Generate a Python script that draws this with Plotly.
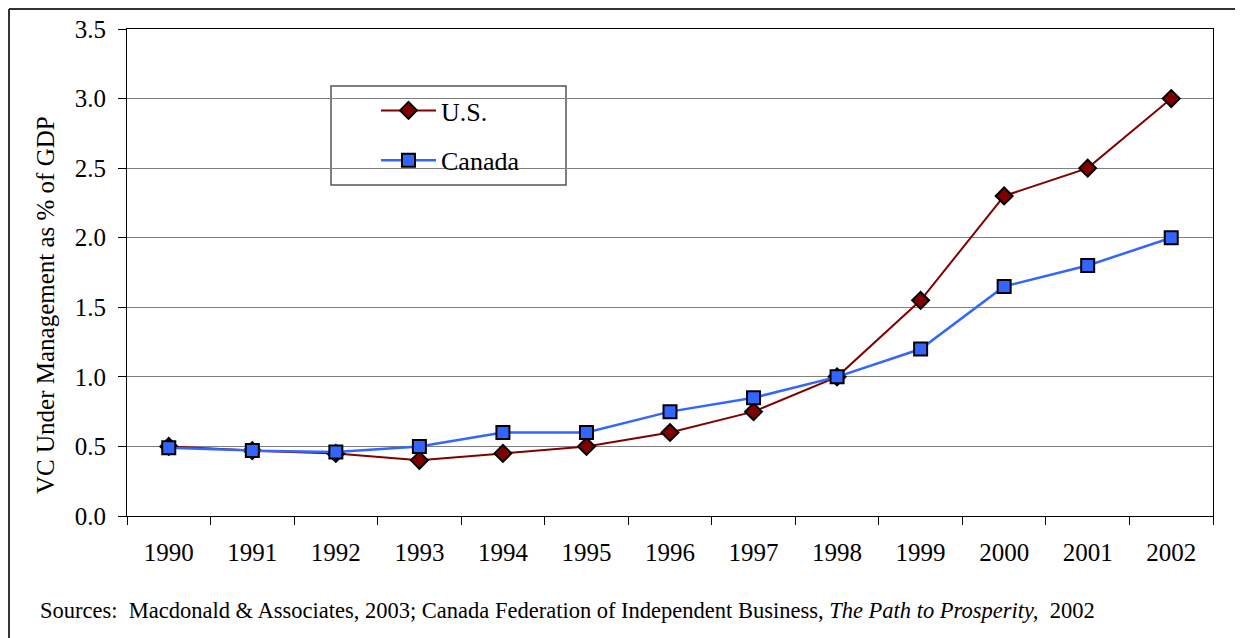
import plotly.graph_objects as go

years = ["1990", "1991", "1992", "1993", "1994", "1995", "1996",
         "1997", "1998", "1999", "2000", "2001", "2002"]
us_values = [0.50, 0.47, 0.45, 0.40, 0.45, 0.50, 0.60, 0.75, 1.00, 1.55, 2.30, 2.50, 3.00]
canada_values = [0.49, 0.47, 0.46, 0.50, 0.60, 0.60, 0.75, 0.85, 1.00, 1.20, 1.65, 1.80, 2.00]
y_ticks = [0.0, 0.5, 1.0, 1.5, 2.0, 2.5, 3.0, 3.5]
y_tick_labels = ["0.0", "0.5", "1.0", "1.5", "2.0", "2.5", "3.0", "3.5"]

W, H = 1243, 638
OFF = 8  # page offset of the figure inside the browser window
# target plot area in window pixels: x 127..1213, y 29..516
L = 127 - OFF
T = 29 - OFF
R = W - (1213 - OFF)
B = H - (516 - OFF)
pw, ph = W - L - R, H - T - B


def px(x):
    return (x - OFF - L) / pw


def py(y):
    return (H - B - (y - OFF)) / ph


serif = "Liberation Serif, Times New Roman, serif"

fig = go.Figure()
fig.add_trace(go.Scatter(
    x=years, y=us_values, name="U.S.", mode="lines+markers",
    legendgroup="us",
    line=dict(color="#800000", width=2),
    marker=dict(symbol="diamond", size=13, color="#800000",
                line=dict(color="black", width=2)),
))
fig.add_trace(go.Scatter(
    x=years, y=canada_values, name="Canada", mode="lines+markers",
    legendgroup="ca",
    line=dict(color="#3366FF", width=2.5),
    marker=dict(symbol="square", size=13, color="#3366FF",
                line=dict(color="black", width=2)),
))

fig.update_layout(
    width=W, height=H,
    margin=dict(l=L, r=R, t=T, b=B, autoexpand=False),
    paper_bgcolor="white", plot_bgcolor="white",
    font=dict(family=serif, color="black", size=25),
    showlegend=True,
    legend=dict(
        x=px(376), y=py(87), xanchor="left", yanchor="top",
        bgcolor="rgba(0,0,0,0)", borderwidth=0,
        font=dict(family=serif, size=26, color="black"),
        itemwidth=55, tracegroupgap=13, traceorder="grouped",
    ),
    xaxis=dict(
        type="category", tickson="boundaries", ticks="outside", ticklen=8,
        tickcolor="black", showline=True, linecolor="black", linewidth=1,
        mirror=True, showgrid=False, range=[-0.5, 12.5],
        tickfont=dict(family=serif, size=25), ticklabelstandoff=14,
    ),
    yaxis=dict(
        range=[0, 3.5], tickvals=y_ticks, ticktext=y_tick_labels,
        ticks="outside", ticklen=8, tickcolor="black",
        showline=True, linecolor="black", linewidth=1, mirror=True,
        showgrid=True, gridcolor="#808080", gridwidth=1, zeroline=False,
        tickfont=dict(family=serif, size=25), ticklabelstandoff=7,
    ),
    shapes=[
        # legend box
        dict(type="rect", xref="paper", yref="paper",
             x0=px(331), x1=px(566), y0=py(185), y1=py(86),
             line=dict(color="#555555", width=1.5), fillcolor="white",
             layer="below"),
        # outer frame
        dict(type="line", xref="paper", yref="paper",
             x0=px(9), x1=px(9), y0=py(9), y1=py(660),
             line=dict(color="#333333", width=2)),
        dict(type="line", xref="paper", yref="paper",
             x0=px(9), x1=px(1260), y0=py(9), y1=py(9),
             line=dict(color="#333333", width=2)),
    ],
    annotations=[
        dict(xref="paper", yref="paper", x=px(45), y=py(305),
             xanchor="center", yanchor="middle", showarrow=False,
             textangle=-90, text="VC Under Management as % of GDP",
             font=dict(family=serif, size=25, color="black")),
        dict(xref="paper", yref="paper", x=px(38), y=py(610),
             xanchor="left", yanchor="middle", showarrow=False,
             text="Sources:  Macdonald &amp; Associates, 2003; Canada Federation of Independent Business, <i>The Path to Prosperity,</i>  2002",
             font=dict(family=serif, size=22.5, color="black")),
    ],
)

fig.write_html("out.html")
